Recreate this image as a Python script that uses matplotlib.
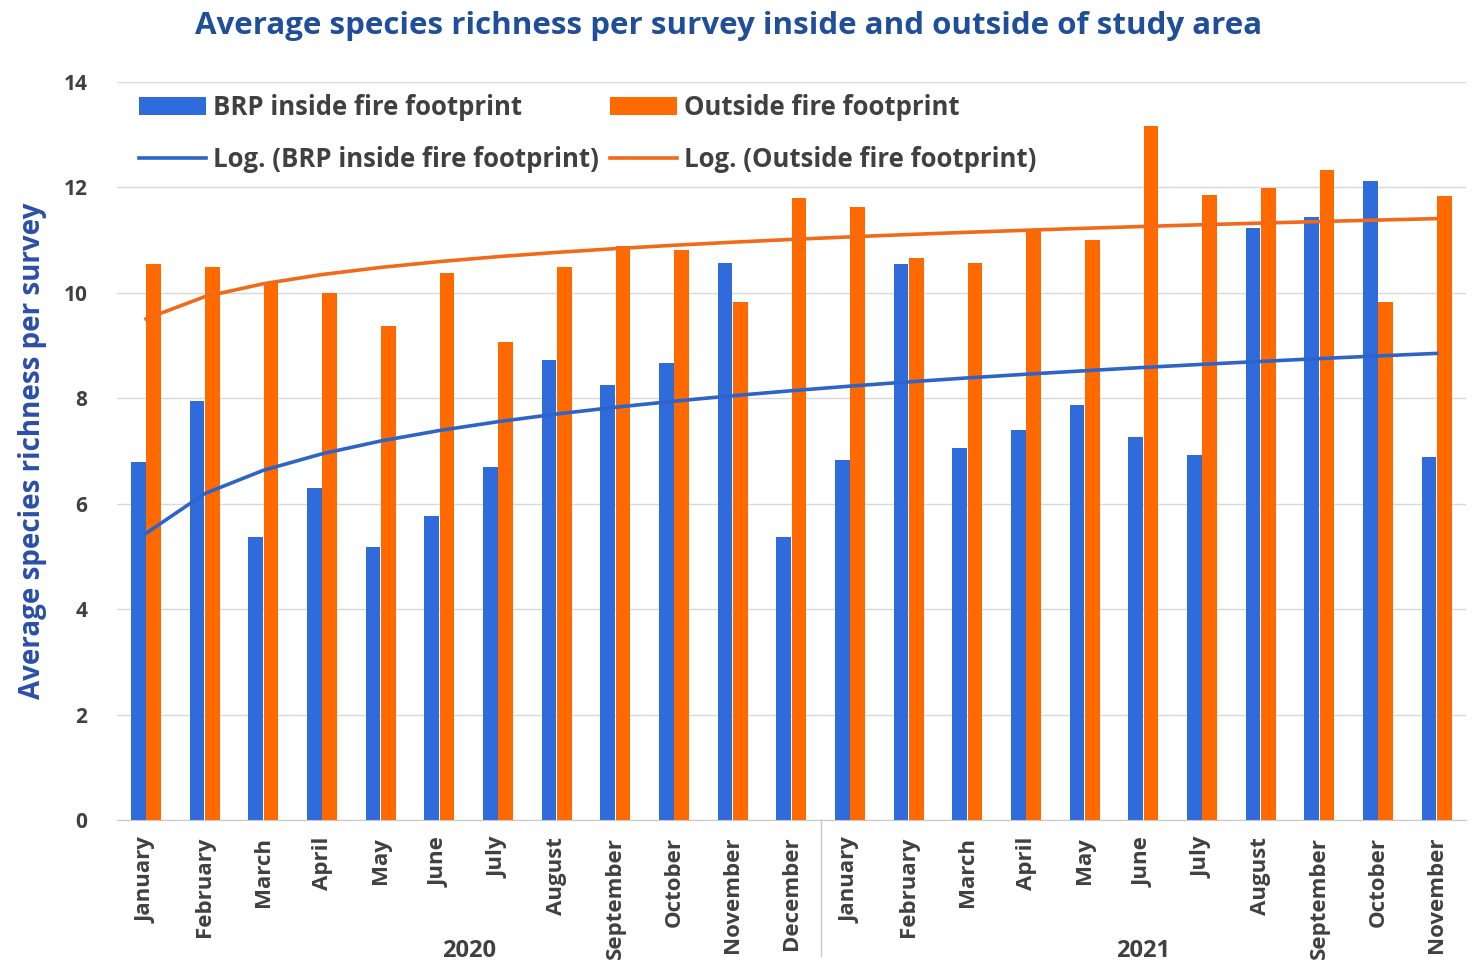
"""Average species richness per survey, inside vs outside the fire footprint."""

import matplotlib

matplotlib.use("Agg")

import matplotlib.pyplot as plt
import numpy as np

MONTHS = [
    "January", "February", "March", "April", "May", "June", "July", "August",
    "September", "October", "November", "December",
    "January", "February", "March", "April", "May", "June", "July", "August",
    "September", "October", "November",
]
YEARS = [("2020", 0, 11), ("2021", 12, 22)]

inside = [6.8, 7.95, 5.37, 6.3, 5.18, 5.77, 6.7, 8.73, 8.25, 8.67, 10.57, 5.37,
          6.83, 10.55, 7.06, 7.4, 7.87, 7.27, 6.93, 11.23, 11.44, 12.13, 6.89]
outside = [10.55, 10.49, 10.19, 10.0, 9.37, 10.38, 9.07, 10.49, 10.89, 10.82, 9.83, 11.8,
           11.63, 10.66, 10.57, 11.2, 11.0, 13.17, 11.86, 11.99, 12.33, 9.83, 11.84]

BLUE = "#2F6BDB"
ORANGE = "#FF6A00"
BLUE_LINE = "#2E64C8"
ORANGE_LINE = "#F06A1A"
TEXT = "#404040"

plt.rcParams["font.family"] = ["Open Sans", "DejaVu Sans"]


def log_trend(values):
    """Excel-style logarithmic trendline: y = a*ln(x) + b."""
    x = np.arange(1, len(values) + 1)
    a, b = np.polyfit(np.log(x), values, 1)
    return a * np.log(x) + b


fig = plt.figure(figsize=(14.75, 9.64), dpi=100)
ax = fig.add_axes([0.0791, 0.1494, 0.9148, 0.7655])

x = np.arange(len(MONTHS))
w = 0.25
b1 = ax.bar(x - 0.13, inside, w, color=BLUE, label="BRP inside fire footprint", zorder=2)
b2 = ax.bar(x + 0.13, outside, w, color=ORANGE, label="Outside fire footprint", zorder=2)
(l1,) = ax.plot(x, log_trend(inside), color=BLUE_LINE, lw=2.6, zorder=3,
                label="Log. (BRP inside fire footprint)")
(l2,) = ax.plot(x, log_trend(outside), color=ORANGE_LINE, lw=2.6, zorder=3,
                label="Log. (Outside fire footprint)")

ax.set_xlim(-0.5, len(MONTHS) - 0.5)
ax.set_ylim(0, 14)
ax.set_yticks(range(0, 15, 2))
ax.grid(axis="y", color="#d9d9d9", lw=1.0, zorder=0)
ax.set_axisbelow(True)
for side in ("top", "right", "left"):
    ax.spines[side].set_visible(False)
ax.spines["bottom"].set_color("#c8c8c8")

ax.tick_params(axis="y", length=0, pad=21, labelsize=15, labelcolor=TEXT)
ax.tick_params(axis="x", length=0, pad=12, labelsize=16, labelcolor=TEXT)
for lab in ax.get_yticklabels():
    lab.set_fontweight("bold")
ax.set_xticks(x)
ax.set_xticklabels(MONTHS, rotation=90, fontweight="bold", va="top")

# year group labels and separator
for name, i0, i1 in YEARS:
    ax.text((i0 + i1) / 2, -0.178, name, transform=ax.get_xaxis_transform(),
            ha="center", va="center", fontsize=17, fontweight="bold", color=TEXT)
ax.plot([11.5, 11.5], [0, -0.185], transform=ax.get_xaxis_transform(),
        color="#c8c8c8", lw=1.0, clip_on=False)

ax.set_ylabel("Average species richness per survey", fontsize=20, fontweight="bold",
              color="#2B4FA8", labelpad=12)

fig.text(0.494, 0.973, "Average species richness per survey inside and outside of study area",
         ha="center", va="center", fontsize=22.5, fontweight="bold", color="#1F4E9A")

leg = ax.legend(handles=[b1, l1, b2, l2], ncol=2, loc="upper left",
                bbox_to_anchor=(0.003, 1.008), frameon=False, fontsize=18.5,
                handlelength=2.6, handleheight=0.7, handletextpad=0.28,
                columnspacing=0.45, labelspacing=0.95, borderaxespad=0.3)
for t in leg.get_texts():
    t.set_fontweight("bold")
    t.set_color(TEXT)

fig.savefig("out.png", dpi=100)
